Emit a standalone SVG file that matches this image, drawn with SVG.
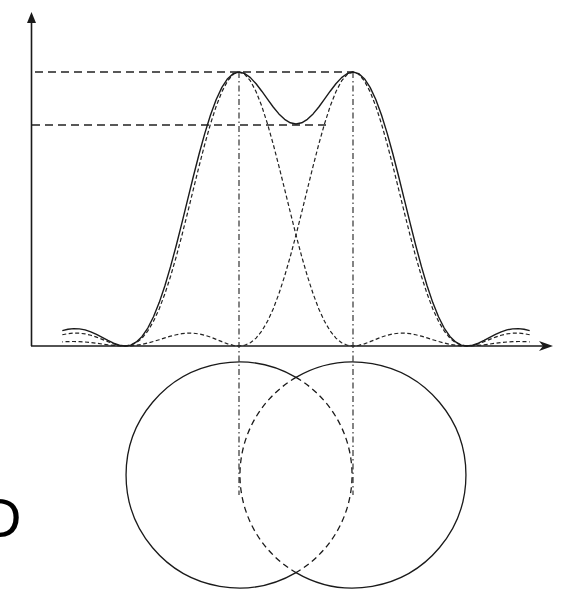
<svg xmlns="http://www.w3.org/2000/svg" xmlns:xlink="http://www.w3.org/1999/xlink" width="568" height="594" viewBox="0 0 568 594">
<style>
.ax{stroke:#1a1a1a;stroke-width:1.6;fill:none}
.sum{stroke:#1a1a1a;stroke-width:1.4;fill:none;stroke-linejoin:round}
.ind{stroke:#222;stroke-width:1.2;fill:none;stroke-dasharray:4 2.5}
.hl{stroke:#222;stroke-width:1.3;fill:none;stroke-dasharray:8 5}
.vl{stroke:#333;stroke-width:1.2;fill:none;stroke-dasharray:6 3 1.5 3}
.cs{stroke:#1a1a1a;stroke-width:1.3;fill:none}
.cd{stroke:#1a1a1a;stroke-width:1.3;fill:none;stroke-dasharray:6 4}
.lbl{font-family:"Liberation Sans",Arial,sans-serif;font-size:56px;fill:#000}
</style>
<defs>
<path id="leftPattern" d="M62.3,334.73 L68,333.66 73.7,333.12 79.4,333.19 85.1,333.91 90.8,335.25 96.5,337.12 102.2,339.34 107.9,341.67 113.6,343.81 119.3,345.38 125,346 130.7,345.25 136.4,342.7 142.1,338.1 147.8,331 153.5,321.3 159.2,308.9 164.9,293.8 170.6,276.2 176.3,256.5 182,235 187.7,212.3 193.4,189.1 199.1,166.1 204.8,144.1 210.5,123.9 216.2,106.2 221.9,91.7 227.6,80.9 233.3,74.25 239,72 244.7,74.25 250.4,80.9 256.1,91.7 261.8,106.2 267.5,123.9 273.2,144.1 278.9,166.1 284.6,189.1 290.3,212.3 296,235 301.7,256.5 307.4,276.2 313.1,293.8 318.8,308.9 324.5,321.3 330.2,331 335.9,338.1 341.6,342.7 347.3,345.25 353,346 358.7,345.38 364.4,343.81 370.1,341.67 375.8,339.34 381.5,337.12 387.2,335.25 392.9,333.91 398.6,333.19 404.3,333.12 410,333.66 415.7,334.73 421.4,336.19 427.1,337.9 432.8,339.71 438.5,341.47 444.2,343.04 449.9,344.33 455.6,345.27 461.3,345.82 467,346 472.7,345.84 478.4,345.4 484.1,344.76 489.8,344.02 495.5,343.26 501.2,342.56 506.9,342.01 512.6,341.64 518.3,341.49 524,341.56 529.7,341.83"/>
</defs>
<g id="axes">
<line class="ax" x1="31.5" y1="20" x2="31.5" y2="346"/>
<polygon points="31.5,12 27,23 36,23" fill="#1a1a1a"/>
<line class="ax" x1="31" y1="346" x2="550" y2="346"/>
<path d="M539,341 L553,346 L539,351 L543,346 Z" fill="#1a1a1a"/>
</g>
<g id="guides">
<line class="hl" x1="35" y1="72" x2="353" y2="72"/>
<line class="hl" x1="32" y1="125" x2="327" y2="125"/>
<line class="vl" x1="239" y1="72" x2="239" y2="495"/>
<line class="vl" x1="353" y1="72" x2="353" y2="495"/>
</g>
<g id="patterns">
<use xlink:href="#leftPattern" href="#leftPattern" class="ind"/>
<use xlink:href="#leftPattern" href="#leftPattern" class="ind" transform="translate(592 0) scale(-1 1)"/>
<path class="sum" d="M62.3,330.56 L68,329.22 73.7,328.61 79.4,328.83 85.1,329.92 90.8,331.81 96.5,334.38 102.2,337.36 107.9,340.43 113.6,343.21 119.3,345.22 125,346 130.7,345.07 136.4,341.97 142.1,336.43 147.8,328.04 153.5,316.77 159.2,302.61 164.9,285.7 170.6,266.39 176.3,245.23 182,222.66 187.7,199.42 193.4,176.29 199.1,154.01 204.8,133.35 210.5,115.02 216.2,99.54 221.9,87.37 227.6,78.71 233.3,73.63 239,72 244.7,73.5 250.4,77.6 256.1,83.8 261.8,91.2 267.5,99.2 273.2,107 278.9,113.9 284.6,119.3 290.3,122.8 296,124 301.7,122.8 307.4,119.3 313.1,113.9 318.8,107 324.5,99.2 330.2,91.2 335.9,83.8 341.6,77.6 347.3,73.5 353,72 358.7,73.63 364.4,78.71 370.1,87.37 375.8,99.54 381.5,115.02 387.2,133.35 392.9,154.01 398.6,176.29 404.3,199.42 410,222.66 415.7,245.23 421.4,266.39 427.1,285.7 432.8,302.61 438.5,316.77 444.2,328.04 449.9,336.43 455.6,341.97 461.3,345.07 467,346 472.7,345.22 478.4,343.21 484.1,340.43 489.8,337.36 495.5,334.38 501.2,331.81 506.9,329.92 512.6,328.83 518.3,328.61 524,329.22 529.7,330.56"/>
</g>
<g id="circle-left">
<path class="cs" d="M296,377.4 A113,113 0 1 0 296,572.6"/>
<path class="cd" d="M296,377.4 A113,113 0 0 1 296,572.6"/>
</g>
<g id="circle-right">
<path class="cs" d="M296,377.4 A113,113 0 1 1 296,572.6"/>
<path class="cd" d="M296,377.4 A113,113 0 0 0 296,572.6"/>
</g>
<text class="lbl" x="-19" y="537">D</text>
</svg>
